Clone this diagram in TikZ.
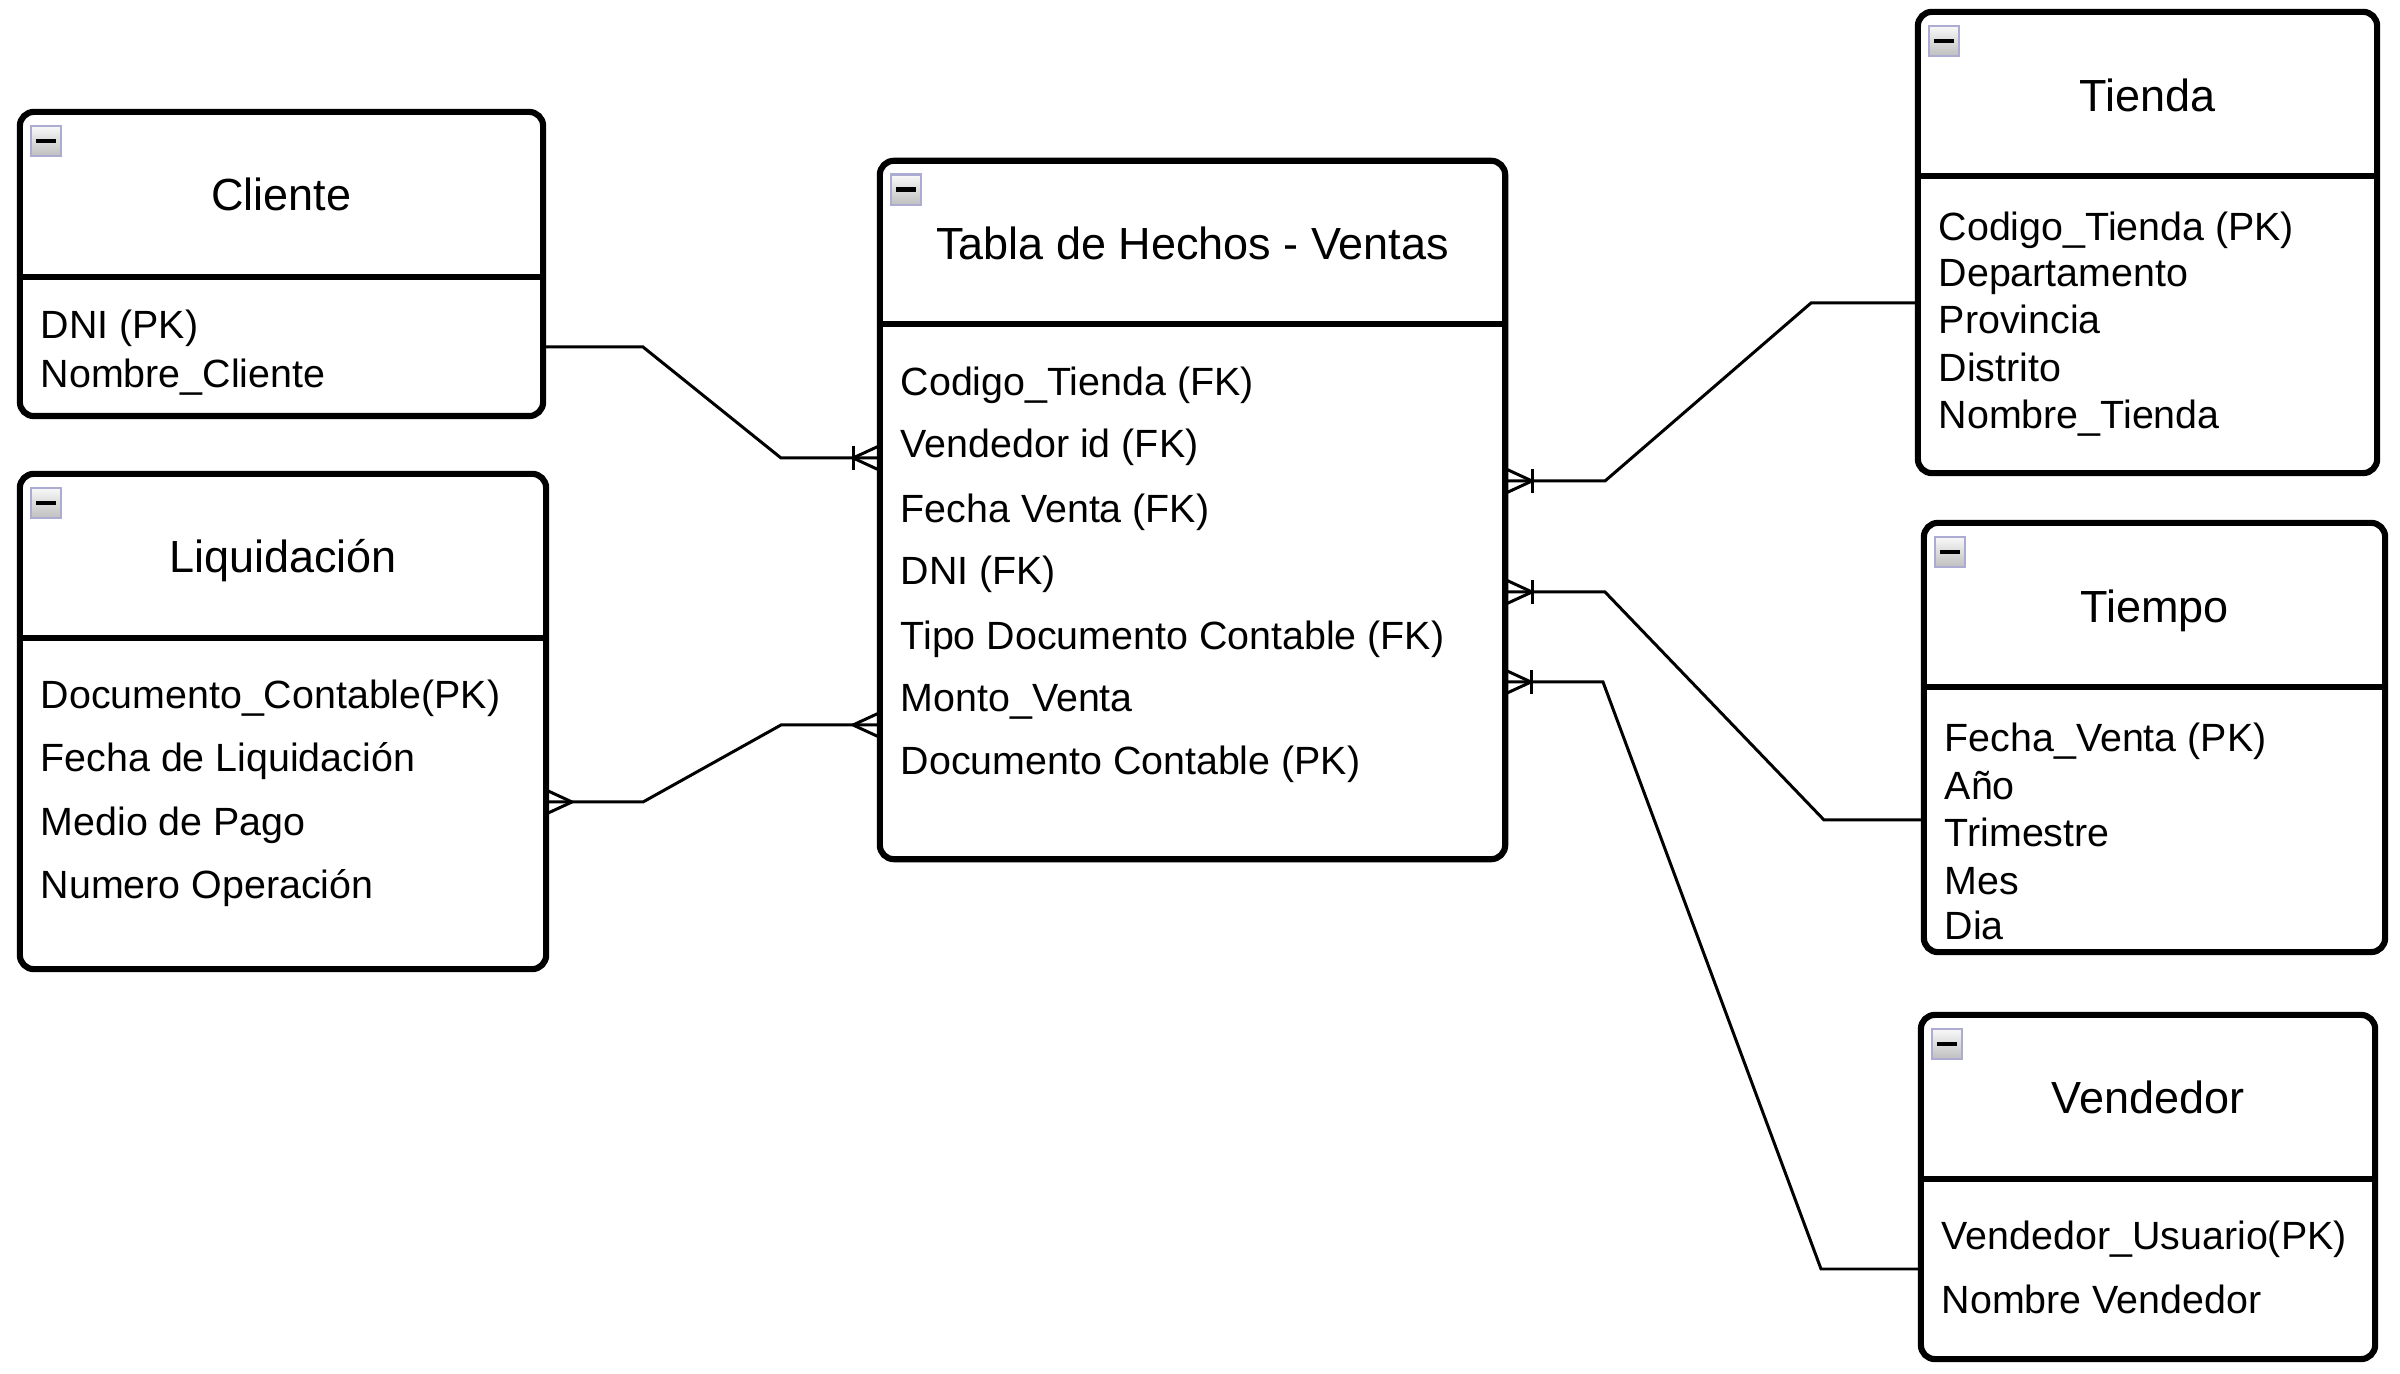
\documentclass[tikz,border=0pt]{standalone}
\usepackage{fontspec}
\setmainfont{Liberation Sans}
\begin{document}
\begin{tikzpicture}[x=0.01cm,y=-0.01cm,
  tbl/.style={draw=black, line width=1.75pt, rounded corners=4pt, rectangle, inner sep=0pt, fill=white},
  divline/.style={draw=black, line width=1.75pt},
  ttl/.style={font=\fontsize{12.8}{15}\selectfont, inner sep=0pt, text height=0.9em, text depth=0.2em},
  attr/.style={font=\fontsize{11.2}{13}\selectfont, anchor=west, inner sep=0pt, text height=0.9em, text depth=0.2em},
  conn/.style={draw=black, line width=0.85pt},
  icon/.style={draw=gray!70!blue!50, line width=0.7pt, top color=gray!5, bottom color=gray!50, minimum size=0.3cm, inner sep=0pt, rectangle,
    path picture={\draw[black, line width=1.3pt] ([xshift=-0.1cm]path picture bounding box.center) -- ([xshift=0.1cm]path picture bounding box.center);}},
  crow/.pic={\draw[conn] (0,0) -- (26,-12) (0,0) -- (26,12);},
  onebar/.pic={\draw[conn] (0,-12) -- (0,12);}
]
\fill[white] (0,0) rectangle (2400,1374);
\useasboundingbox (0,0) rectangle (2400,1374);

% ---------- connectors ----------
\draw[conn] (543,347) -- (643,347) -- (781,458) -- (880,458);
\draw[conn] (546,802) -- (643,802) -- (781,725) -- (880,725);
\draw[conn] (1505,481) -- (1605,481) -- (1811,303) -- (1918,303);
\draw[conn] (1505,592) -- (1605,592) -- (1824,820) -- (1924,820);
\draw[conn] (1505,682) -- (1603,682) -- (1821,1269) -- (1921,1269);

% ---------- tables ----------
\node[tbl, minimum width=5.23cm, minimum height=3.04cm] (cli) at (281.5,264) {};
\node[tbl, minimum width=5.26cm, minimum height=4.95cm] (liq) at (283,721.5) {};
\node[tbl, minimum width=6.25cm, minimum height=6.98cm] (fact) at (1192.5,510) {};
\node[tbl, minimum width=4.59cm, minimum height=4.61cm] (tienda) at (2147.5,242.5) {};
\node[tbl, minimum width=4.61cm, minimum height=4.29cm] (tiempo) at (2154.5,737.5) {};
\node[tbl, minimum width=4.54cm, minimum height=3.44cm] (vend) at (2148,1187) {};

% dividers
\draw[divline] (cli.west |- 0,277) -- (cli.east |- 0,277);
\draw[divline] (liq.west |- 0,638) -- (liq.east |- 0,638);
\draw[divline] (fact.west |- 0,324) -- (fact.east |- 0,324);
\draw[divline] (tienda.west |- 0,176) -- (tienda.east |- 0,176);
\draw[divline] (tiempo.west |- 0,687) -- (tiempo.east |- 0,687);
\draw[divline] (vend.west |- 0,1179) -- (vend.east |- 0,1179);

% icons
\node[icon] (clii) at ([shift={(0.29cm,-0.32cm)}]cli.north west) {};
\node[icon] (liqi) at ([shift={(0.29cm,-0.32cm)}]liq.north west) {};
\node[icon] (facti) at ([shift={(0.29cm,-0.32cm)}]fact.north west) {};
\node[icon] (tiendai) at ([shift={(0.29cm,-0.32cm)}]tienda.north west) {};
\node[icon] (tiempoi) at ([shift={(0.29cm,-0.32cm)}]tiempo.north west) {};
\node[icon] (vendi) at ([shift={(0.29cm,-0.32cm)}]vend.north west) {};

% titles
\node[ttl] (clit) at (cli.center |- 0,198) {Cliente};
\node[ttl] (liqt) at (liq.center |- 0,560) {Liquidación};
\node[ttl] (factt) at (fact.center |- 0,247) {Tabla de Hechos - Ventas};
\node[ttl] (tiendat) at (tienda.center |- 0,99) {Tienda};
\node[ttl] (tiempot) at (tiempo.center |- 0,610) {Tiempo};
\node[ttl] (vendt) at (vend.center |- 0,1101) {Vendedor};

% attributes
\node[attr] (c1) at (40,326) {DNI (PK)};
\node[attr] (c2) at (40,375) {Nombre\_Cliente};

\node[attr] (l1) at (40,696) {Documento\_Contable(PK)};
\node[attr] (l2) at (40,759) {Fecha de Liquidación};
\node[attr] (l3) at (40,823) {Medio de Pago};
\node[attr] (l4) at (40,886) {Numero Operación};

\node[attr] (f1) at (900,383) {Codigo\_Tienda (FK)};
\node[attr] (f2) at (900,445) {Vendedor id (FK)};
\node[attr] (f3) at (900,510) {Fecha Venta (FK)};
\node[attr] (f4) at (900,572) {DNI (FK)};
\node[attr] (f5) at (900,637) {Tipo Documento Contable (FK)};
\node[attr] (f6) at (900,699) {Monto\_Venta};
\node[attr] (f7) at (900,762) {Documento Contable (PK)};

\node[attr] (t1) at (1938,228) {Codigo\_Tienda (PK)};
\node[attr] (t2) at (1938,274) {Departamento};
\node[attr] (t3) at (1938,321) {Provincia};
\node[attr] (t4) at (1938,369) {Distrito};
\node[attr] (t5) at (1938,416) {Nombre\_Tienda};

\node[attr] (m1) at (1944,739) {Fecha\_Venta (PK)};
\node[attr] (m2) at (1944,787) {Año};
\node[attr] (m3) at (1944,834) {Trimestre};
\node[attr] (m4) at (1944,882) {Mes};
\node[attr] (m5) at (1944,927) {Dia};

\node[attr] (v1) at (1941,1237) {Vendedor\_Usuario(PK)};
\node[attr] (v2) at (1941,1301) {Nombre Vendedor};

% crow's feet
\pic at (853,458) {crow};
\pic at (853,458) {onebar};
\pic at (853,725) {crow};
\pic[rotate=180] at (572,802) {crow};
\pic[rotate=180] at (1532,481) {crow};
\pic at (1532,481) {onebar};
\pic[rotate=180] at (1532,592) {crow};
\pic at (1532,592) {onebar};
\pic[rotate=180] at (1531,682) {crow};
\pic at (1531,682) {onebar};
\end{tikzpicture}
\end{document}
